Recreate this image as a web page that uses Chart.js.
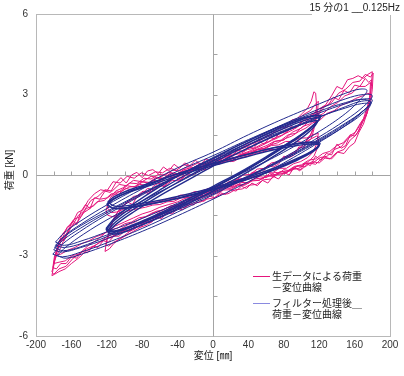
<!DOCTYPE html>
<html><head><meta charset="utf-8">
<script src="https://cdn.jsdelivr.net/npm/chart.js@4/dist/chart.umd.min.js"></script>
<style>html,body{margin:0;padding:0;background:#fff}canvas{display:block}</style>
</head><body>
<canvas id="c" width="404" height="376"></canvas>
<script>
// ---- text ----
const titleText = '15 分の1 __0.125Hz';
const xTitle = '変位 [㎜]';
const yTitle = '荷重 [kN]';
const legendRaw = ['生データによる荷重', '－変位曲線'];
const legendFlt = ['フィルター処理後＿', '荷重－変位曲線'];
const xRange = [-200, 200];
const yRange = [-6, 6];
const xStep = 40;
const yStep = 3;

// ---- raw data loops (displacement mm, load kN) ----
const rawBig1 = [[-182,-3.6],[-178,-3.1],[-172,-2.7],[-166,-2.2],[-160,-1.95],[-152,-1.5],[-146,-1.35],[-138,-0.95],[-130,-0.8],[-122,-0.55],[-114,-0.6],[-106,-0.35],[-98,-0.4],[-90,-0.2],[-80,-0.25],[-70,-0.05],[-60,-0.1],[-50,0.1],[-40,0.05],[-30,0.25],[-20,0.2],[-10,0.4],[0,0.35],[10,0.55],[20,0.5],[30,0.75],[40,0.7],[50,0.95],[60,1.0],[70,1.25],[80,1.3],[90,1.6],[100,1.75],[110,2.05],[118,2.2],[126,2.55],[134,2.7],[142,3.05],[150,3.2],[158,3.45],[166,3.5],[172,3.75],[178,3.65],[181,3.8],
 [180,3.2],[178,2.7],[174,2.3],[168,1.9],[162,1.5],[155,1.3],[148,0.95],[140,0.85],[132,0.6],[124,0.65],[116,0.4],[108,0.45],[100,0.2],[90,0.25],[80,0.05],[70,0.1],[60,-0.1],[50,-0.05],[40,-0.3],[30,-0.25],[20,-0.45],[10,-0.4],[0,-0.6],[-10,-0.55],[-20,-0.8],[-30,-0.85],[-40,-1.0],[-50,-1.1],[-60,-1.2],[-70,-1.35],[-80,-1.45],[-90,-1.6],[-100,-1.75],[-110,-1.9],[-120,-2.1],[-130,-2.4],[-140,-2.6],[-150,-2.9],[-158,-3.1],[-166,-3.4],[-174,-3.5],[-180,-3.7],[-182,-3.6]];
const rawBig2 = [[-180,-3.3],[-177,-2.8],[-172,-2.45],[-166,-2.3],[-160,-1.9],[-153,-1.75],[-146,-1.4],[-139,-1.25],[-131,-1.0],[-123,-0.95],[-115,-0.7],[-107,-0.72],[-99,-0.5],[-91,-0.55],[-83,-0.35],[-75,-0.38],[-67,-0.2],[-59,-0.25],[-51,-0.05],[-43,-0.1],[-35,0.1],[-27,0.08],[-19,0.25],[-11,0.22],[-3,0.4],[5,0.42],[13,0.55],[21,0.6],[29,0.72],[37,0.8],[45,0.9],[53,1.0],[61,1.1],[69,1.25],[77,1.3],[85,1.5],[93,1.55],[101,1.8],[109,1.9],[117,2.15],[125,2.3],[133,2.55],[141,2.7],[149,2.95],[157,3.05],[165,3.3],[172,3.3],[178,3.45],
 [177,2.9],[174,2.5],[170,2.1],[165,1.85],[159,1.5],[152,1.35],[145,1.05],[137,0.95],[129,0.7],[121,0.65],[113,0.45],[105,0.42],[97,0.25],[89,0.2],[81,0.05],[73,0.02],[65,-0.15],[57,-0.18],[49,-0.35],[41,-0.38],[33,-0.52],[25,-0.55],[17,-0.7],[9,-0.72],[1,-0.85],[-7,-0.9],[-15,-1.02],[-23,-1.05],[-31,-1.2],[-39,-1.25],[-47,-1.38],[-55,-1.42],[-63,-1.58],[-71,-1.62],[-79,-1.8],[-87,-1.85],[-95,-2.0],[-103,-2.1],[-111,-2.25],[-119,-2.35],[-127,-2.5],[-135,-2.65],[-143,-2.75],[-151,-2.95],[-159,-3.0],[-167,-3.2],[-174,-3.25],[-180,-3.3]];
const rawBig3 = [[-182,-3.75],[-179,-3.2],[-175,-2.7],[-170,-2.35],[-165,-1.95],[-159,-1.8],[-153,-1.4],[-147,-1.3],[-141,-0.95],[-134,-0.7],[-127,-0.55],[-120,-0.6],[-113,-0.25],[-105,-0.3],[-97,-0.05],[-89,-0.12],[-81,0.08],[-73,-0.02],[-65,0.12],[-57,0.08],[-49,0.25],[-41,0.18],[-33,0.38],[-25,0.32],[-17,0.45],[-9,0.4],[-1,0.55],[7,0.6],[15,0.65],[23,0.75],[31,0.8],[39,0.95],[47,1.0],[55,1.15],[63,1.25],[71,1.4],[79,1.5],[87,1.7],[95,1.8],[103,2.05],[111,2.2],[119,2.45],[127,2.6],[134,2.95],[140,3.3],[146,3.2],[152,3.55],[158,3.6],[164,3.7],[170,3.6],[175,3.75],[180,3.85],
 [179,3.3],[177,2.8],[174,2.3],[170,1.9],[165,1.6],[160,1.2],[154,1.05],[148,0.8],[141,0.85],[134,0.6],[127,0.65],[120,0.45],[112,0.5],[104,0.3],[96,0.35],[88,0.15],[80,0.2],[72,0.0],[64,0.05],[56,-0.15],[48,-0.12],[40,-0.3],[32,-0.28],[24,-0.45],[16,-0.42],[8,-0.6],[0,-0.6],[-8,-0.75],[-16,-0.78],[-24,-0.9],[-32,-0.95],[-40,-1.1],[-48,-1.15],[-56,-1.3],[-64,-1.35],[-72,-1.5],[-80,-1.6],[-88,-1.75],[-96,-1.85],[-104,-2.0],[-112,-2.15],[-120,-2.3],[-128,-2.5],[-136,-2.7],[-144,-2.85],[-152,-3.1],[-160,-3.3],[-167,-3.5],[-174,-3.6],[-179,-3.7],[-182,-3.75]];
const rawBig4 = [[-178,-3.0],[-175,-2.55],[-170,-2.2],[-164,-1.95],[-157,-1.65],[-150,-1.55],[-143,-1.25],[-135,-1.15],[-127,-0.9],[-119,-0.85],[-111,-0.65],[-103,-0.6],[-95,-0.45],[-87,-0.42],[-79,-0.25],[-71,-0.28],[-63,-0.1],[-55,-0.12],[-47,0.05],[-39,0.02],[-31,0.18],[-23,0.2],[-15,0.32],[-7,0.3],[1,0.45],[9,0.48],[17,0.58],[25,0.62],[33,0.75],[41,0.78],[49,0.92],[57,0.98],[65,1.12],[73,1.2],[81,1.35],[89,1.45],[97,1.62],[105,1.75],[113,1.95],[121,2.05],[129,2.3],[137,2.4],[145,2.6],[153,2.7],[161,2.85],[169,2.95],[175,3.05],[178,3.0],
 [176,2.6],[172,2.2],[167,1.9],[161,1.6],[154,1.45],[147,1.2],[140,1.1],[132,0.88],[124,0.8],[116,0.6],[108,0.55],[100,0.38],[92,0.32],[84,0.15],[76,0.12],[68,-0.02],[60,-0.05],[52,-0.2],[44,-0.22],[36,-0.38],[28,-0.4],[20,-0.55],[12,-0.56],[4,-0.7],[-4,-0.72],[-12,-0.85],[-20,-0.88],[-28,-1.0],[-36,-1.05],[-44,-1.18],[-52,-1.22],[-60,-1.35],[-68,-1.4],[-76,-1.55],[-84,-1.6],[-92,-1.75],[-100,-1.82],[-108,-1.98],[-116,-2.05],[-124,-2.2],[-132,-2.3],[-140,-2.45],[-148,-2.55],[-156,-2.7],[-164,-2.8],[-172,-2.95],[-178,-3.0]];
const rawBig5 = [[-181,-3.45],[-179,-3.0],[-176,-2.85],[-172,-2.4],[-168,-2.45],[-163,-2.0],[-158,-1.7],[-154,-1.85],[-149,-1.35],[-144,-1.1],[-139,-1.25],[-134,-0.85],[-128,-0.9],[-122,-0.6],[-116,-0.65],[-110,-0.3],[-104,-0.1],[-98,-0.3],[-92,0.0],[-86,0.1],[-80,-0.1],[-74,0.15],[-68,0.2],[-62,0.05],[-56,0.3],[-50,0.15],[-44,0.4],[-38,0.25],[-32,0.45],[-26,0.35],[-20,0.55],[-14,0.4],[-8,0.6],[-2,0.5],[4,0.7],[10,0.58],[16,0.82],[22,0.72],[28,0.95],[34,0.85],[40,1.05],[46,1.0],[52,1.25],[58,1.15],[64,1.4],[70,1.35],[76,1.6],[82,1.55],[88,1.8],[94,1.75],[100,2.0],[106,2.05],[112,2.3],[118,2.25],[124,2.55],[130,2.6],[136,2.9],[142,2.8],[148,3.15],[154,3.05],[160,3.35],[166,3.3],[172,3.6],[176,3.45],[179,3.55],
 [178,3.0],[176,2.55],[173,2.2],[169,2.0],[165,1.65],[160,1.45],[155,1.5],[150,1.1],[145,1.0],[140,1.15],[134,0.75],[128,0.8],[122,0.55],[116,0.7],[110,0.35],[104,0.45],[98,0.15],[92,0.3],[86,0.0],[80,0.1],[74,-0.15],[68,-0.05],[62,-0.3],[56,-0.2],[50,-0.4],[44,-0.3],[38,-0.5],[32,-0.42],[26,-0.6],[20,-0.55],[14,-0.72],[8,-0.66],[2,-0.85],[-4,-0.78],[-10,-0.98],[-16,-0.92],[-22,-1.12],[-28,-1.08],[-34,-1.3],[-40,-1.25],[-46,-1.45],[-52,-1.42],[-58,-1.62],[-64,-1.58],[-70,-1.78],[-76,-1.75],[-82,-1.95],[-88,-1.9],[-94,-2.1],[-100,-2.08],[-106,-2.28],[-112,-2.28],[-118,-2.5],[-124,-2.45],[-130,-2.7],[-136,-2.65],[-142,-2.9],[-148,-2.85],[-154,-3.1],[-160,-3.05],[-166,-3.3],[-172,-3.3],[-177,-3.5],[-181,-3.45]];
const rawMid1 = [[-121,-2.6],[-118,-2.2],[-114,-1.8],[-110,-1.5],[-104,-1.2],[-98,-1.05],[-90,-0.8],[-82,-0.75],[-74,-0.5],[-66,-0.55],[-58,-0.3],[-50,-0.25],[-42,-0.05],[-34,-0.1],[-26,0.15],[-18,0.2],[-10,0.3],[-2,0.45],[6,0.5],[14,0.7],[22,0.75],[30,0.95],[38,1.05],[46,1.2],[54,1.3],[62,1.45],[70,1.6],[78,1.7],[86,1.9],[94,2.0],[102,2.25],[110,2.4],[116,2.65],[119,2.75],
 [118,2.3],[115,1.9],[111,1.55],[106,1.3],[100,1.05],[94,0.9],[86,0.7],[78,0.6],[70,0.4],[62,0.35],[54,0.15],[46,0.1],[38,-0.1],[30,-0.15],[22,-0.35],[14,-0.4],[6,-0.55],[-2,-0.65],[-10,-0.8],[-18,-0.85],[-26,-1.05],[-34,-1.1],[-42,-1.3],[-50,-1.4],[-58,-1.55],[-66,-1.65],[-74,-1.85],[-82,-1.95],[-90,-2.1],[-98,-2.25],[-106,-2.4],[-112,-2.5],[-118,-2.65],[-121,-2.6]];
const rawMid2 = [[-119,-2.3],[-116,-1.95],[-112,-1.6],[-107,-1.35],[-101,-1.15],[-94,-0.95],[-86,-0.85],[-78,-0.65],[-70,-0.62],[-62,-0.42],[-54,-0.4],[-46,-0.2],[-38,-0.22],[-30,0.0],[-22,0.02],[-14,0.18],[-6,0.22],[2,0.38],[10,0.45],[18,0.58],[26,0.65],[34,0.8],[42,0.9],[50,1.02],[58,1.15],[66,1.28],[74,1.4],[82,1.55],[90,1.68],[98,1.85],[106,2.0],[112,2.2],[117,2.4],
 [116,2.0],[113,1.7],[109,1.4],[103,1.18],[97,0.98],[90,0.82],[82,0.68],[74,0.5],[66,0.45],[58,0.25],[50,0.22],[42,0.02],[34,0.0],[26,-0.2],[18,-0.25],[10,-0.42],[2,-0.48],[-6,-0.65],[-14,-0.7],[-22,-0.88],[-30,-0.92],[-38,-1.12],[-46,-1.18],[-54,-1.35],[-62,-1.42],[-70,-1.6],[-78,-1.68],[-86,-1.85],[-94,-1.95],[-102,-2.1],[-110,-2.2],[-116,-2.35],[-119,-2.3]];
const rawMid3 = [[-122,-2.85],[-120,-2.4],[-117,-2.1],[-113,-1.7],[-108,-1.55],[-103,-1.2],[-97,-1.0],[-91,-1.1],[-85,-0.75],[-79,-0.6],[-73,-0.7],[-67,-0.4],[-61,-0.3],[-55,-0.45],[-49,-0.1],[-43,-0.05],[-37,-0.2],[-31,0.15],[-25,0.1],[-19,0.3],[-13,0.25],[-7,0.45],[-1,0.5],[5,0.6],[11,0.75],[17,0.7],[23,0.95],[29,0.9],[35,1.1],[41,1.2],[47,1.15],[53,1.4],[59,1.5],[65,1.45],[71,1.7],[77,1.8],[83,1.75],[89,2.05],[95,2.1],[101,2.3],[107,2.5],[111,2.75],[114,3.1],[116,3.05],
 [117,2.6],[116,2.1],[114,1.7],[111,1.35],[107,1.25],[102,1.0],[97,1.05],[92,0.75],[86,0.65],[80,0.7],[74,0.4],[68,0.3],[62,0.35],[56,0.1],[50,0.05],[44,0.1],[38,-0.15],[32,-0.2],[26,-0.15],[20,-0.4],[14,-0.45],[8,-0.4],[2,-0.65],[-4,-0.7],[-10,-0.65],[-16,-0.9],[-22,-0.95],[-28,-0.9],[-34,-1.15],[-40,-1.2],[-46,-1.15],[-52,-1.4],[-58,-1.45],[-64,-1.5],[-70,-1.7],[-76,-1.75],[-82,-1.85],[-88,-2.0],[-94,-2.1],[-100,-2.25],[-106,-2.4],[-112,-2.55],[-117,-2.75],[-122,-2.85]];
const rawSmall1 = [[-121,-1.35],[-117,-1.0],[-112,-0.75],[-105,-0.6],[-97,-0.4],[-89,-0.45],[-81,-0.25],[-73,-0.3],[-65,-0.1],[-57,-0.15],[-49,0.05],[-41,0.0],[-33,0.2],[-25,0.15],[-17,0.3],[-9,0.3],[-1,0.45],[7,0.4],[15,0.55],[23,0.5],[31,0.65],[39,0.7],[47,0.8],[55,0.85],[63,0.95],[71,0.95],[79,1.1],[87,1.1],[95,1.25],[103,1.2],[111,1.35],[117,1.45],[120,1.4],
 [118,1.0],[114,0.7],[108,0.5],[100,0.35],[92,0.3],[84,0.1],[76,0.12],[68,-0.05],[60,-0.02],[52,-0.2],[44,-0.18],[36,-0.35],[28,-0.35],[20,-0.5],[12,-0.48],[4,-0.6],[-4,-0.62],[-12,-0.72],[-20,-0.75],[-28,-0.85],[-36,-0.85],[-44,-0.98],[-52,-1.0],[-60,-1.1],[-68,-1.12],[-76,-1.2],[-84,-1.25],[-92,-1.3],[-100,-1.38],[-108,-1.5],[-114,-1.55],[-119,-1.5],[-121,-1.35]];
const rawSmall2 = [[-120,-1.2],[-116,-0.85],[-110,-0.6],[-102,-0.48],[-94,-0.3],[-86,-0.32],[-78,-0.12],[-70,-0.15],[-62,0.02],[-54,0.0],[-46,0.18],[-38,0.15],[-30,0.3],[-22,0.28],[-14,0.42],[-6,0.4],[2,0.55],[10,0.52],[18,0.68],[26,0.65],[34,0.8],[42,0.82],[50,0.95],[58,0.98],[66,1.1],[74,1.12],[82,1.25],[90,1.25],[98,1.38],[106,1.38],[112,1.5],[119,1.55],
 [117,1.15],[113,0.85],[107,0.65],[99,0.5],[91,0.42],[83,0.25],[75,0.25],[67,0.08],[59,0.1],[51,-0.08],[43,-0.06],[35,-0.22],[27,-0.22],[19,-0.38],[11,-0.36],[3,-0.5],[-5,-0.5],[-13,-0.62],[-21,-0.62],[-29,-0.75],[-37,-0.75],[-45,-0.88],[-53,-0.9],[-61,-1.0],[-69,-1.02],[-77,-1.1],[-85,-1.15],[-93,-1.2],[-101,-1.28],[-109,-1.38],[-115,-1.4],[-120,-1.2]];

// ---- filtered data loops ----
const fltBig1 = [[-180,-2.79],[-170,-2.44],[-150,-1.99],[-120,-1.41],[-80,-0.70],[-40,-0.04],[0,0.6],[40,1.2],[80,1.78],[120,2.31],[150,2.66],[170,2.83],[180,2.79],
 [170,2.40],[150,1.94],[120,1.34],[80,0.61],[40,-0.06],[0,-0.7],[-40,-1.30],[-80,-1.87],[-120,-2.38],[-150,-2.71],[-170,-2.87],[-180,-2.79]];
const fltBig2 = [[-178,-2.62],[-168,-2.30],[-148,-1.86],[-118,-1.32],[-78,-0.64],[-38,0.0],[0,0.55],[40,1.12],[80,1.66],[120,2.17],[150,2.5],[168,2.66],[178,2.63],
 [168,2.26],[150,1.84],[120,1.26],[80,0.56],[40,-0.07],[0,-0.65],[-40,-1.22],[-80,-1.77],[-120,-2.24],[-148,-2.55],[-168,-2.7],[-178,-2.62]];
const fltBig3 = [[-181,-2.95],[-171,-2.6],[-151,-2.12],[-121,-1.5],[-81,-0.76],[-41,-0.05],[0,0.65],[40,1.28],[80,1.9],[120,2.46],[150,2.84],[170,3.0],[180,2.95],
 [170,2.55],[150,2.05],[120,1.42],[80,0.65],[40,-0.06],[0,-0.74],[-40,-1.38],[-80,-1.99],[-120,-2.53],[-150,-2.88],[-170,-3.05],[-181,-2.95]];
const fltBig4 = [[-178,-2.5],[-168,-2.15],[-148,-1.68],[-118,-1.08],[-78,-0.38],[-38,0.3],[0,0.85],[40,1.5],[80,2.1],[120,2.65],[150,3.05],[166,3.2],[174,3.15],
 [166,2.8],[150,2.3],[120,1.62],[80,0.85],[40,0.18],[0,-0.45],[-40,-1.05],[-80,-1.62],[-120,-2.12],[-148,-2.45],[-168,-2.62],[-178,-2.5]];
const fltBig5 = [[-176,-3.0],[-166,-2.68],[-146,-2.2],[-116,-1.6],[-76,-0.9],[-36,-0.22],[0,0.38],[40,1.0],[80,1.6],[120,2.15],[150,2.55],[168,2.75],[178,2.72],
 [168,2.33],[150,1.85],[120,1.22],[80,0.45],[40,-0.25],[0,-0.9],[-40,-1.52],[-80,-2.1],[-120,-2.62],[-146,-2.92],[-166,-3.1],[-176,-3.0]];
const fltBig6 = [[-179,-2.7],[-169,-2.3],[-149,-1.83],[-119,-1.23],[-79,-0.5],[-39,0.16],[0,0.72],[40,1.32],[80,1.88],[120,2.38],[150,2.7],[168,2.82],[179,2.7],
 [168,2.35],[150,1.9],[120,1.3],[80,0.6],[40,-0.03],[0,-0.6],[-40,-1.2],[-80,-1.78],[-120,-2.3],[-150,-2.68],[-169,-2.82],[-179,-2.7]];
const fltMid1 = [[-120,-2.1],[-110,-1.75],[-90,-1.28],[-60,-0.66],[-30,-0.09],[0,0.45],[30,0.96],[60,1.44],[90,1.87],[110,2.1],[120,2.1],
 [110,1.73],[90,1.25],[60,0.62],[30,0.04],[0,-0.5],[-30,-1.01],[-60,-1.48],[-90,-1.9],[-110,-2.12],[-120,-2.1]];
const fltMid2 = [[-121,-2.05],[-111,-1.68],[-91,-1.2],[-61,-0.58],[-31,0.0],[0,0.52],[30,1.04],[60,1.52],[90,1.95],[111,2.18],[122,2.2],
 [111,1.8],[90,1.3],[60,0.68],[30,0.1],[0,-0.42],[-30,-0.94],[-60,-1.42],[-90,-1.85],[-111,-2.08],[-121,-2.05]];
const fltMid3 = [[-119,-2.15],[-109,-1.82],[-89,-1.36],[-59,-0.75],[-29,-0.2],[0,0.33],[30,0.85],[60,1.33],[90,1.76],[109,1.98],[118,2.0],
 [109,1.62],[90,1.15],[60,0.52],[30,-0.06],[0,-0.6],[-30,-1.1],[-60,-1.56],[-90,-1.98],[-109,-2.2],[-119,-2.15]];
const fltMid4 = [[-121,-2.0],[-111,-1.6],[-91,-1.1],[-61,-0.45],[-31,0.12],[0,0.62],[30,1.12],[60,1.58],[90,2.0],[111,2.2],[121,2.15],
 [111,1.78],[90,1.28],[60,0.64],[30,0.06],[0,-0.48],[-30,-1.0],[-60,-1.46],[-90,-1.88],[-111,-2.1],[-121,-2.0]];
const fltSmall1 = [[-120,-1.08],[-112,-0.88],[-95,-0.64],[-70,-0.38],[-40,-0.03],[0,0.35],[40,0.7],[70,0.95],[95,1.1],[112,1.15],[120,1.1],
 [112,0.85],[95,0.55],[70,0.2],[40,-0.15],[0,-0.55],[-40,-0.88],[-70,-1.08],[-95,-1.22],[-112,-1.25],[-120,-1.08]];
const fltSmall2 = [[-119,-1.0],[-111,-0.8],[-94,-0.55],[-69,-0.28],[-39,0.06],[0,0.43],[40,0.78],[70,1.03],[95,1.18],[113,1.23],[121,1.18],
 [113,0.92],[95,0.62],[70,0.27],[40,-0.08],[0,-0.47],[-40,-0.8],[-70,-1.0],[-95,-1.13],[-111,-1.16],[-119,-1.0]];
const fltSmall3 = [[-120,-1.12],[-112,-0.9],[-95,-0.62],[-70,-0.33],[-40,0.04],[0,0.42],[40,0.78],[70,1.02],[95,1.16],[112,1.2],[120,1.15],
 [112,0.88],[95,0.58],[70,0.22],[40,-0.14],[0,-0.52],[-40,-0.86],[-70,-1.07],[-95,-1.2],[-112,-1.24],[-120,-1.12]];

const rawLoops = [rawBig1, rawBig2, rawBig3, rawBig4, rawBig5, rawMid1, rawMid2, rawMid3, rawSmall1, rawSmall2];
const fltBigLoops = [fltBig1, fltBig2, fltBig3, fltBig4, fltBig5, fltBig6];
const fltMidLoops = [fltMid1, fltMid2, fltMid3, fltMid4, fltSmall1, fltSmall2, fltSmall3];

const RAW_COLOR = '#e5157c';
const FLT_COLOR = '#232b8e';
const FLT_LEGEND_COLOR = '#8a8ae0';

const toPts = arr => arr.map(([x, y]) => ({x, y}));
const datasets = [];
fltBigLoops.forEach(l => datasets.push({data: toPts(l), borderColor: FLT_COLOR, borderWidth: 1, tension: 0.4, order: 0}));
fltMidLoops.forEach(l => datasets.push({data: toPts(l), borderColor: FLT_COLOR, borderWidth: 1.4, tension: 0.4, order: 0}));
rawLoops.forEach(l => datasets.push({data: toPts(l), borderColor: RAW_COLOR, borderWidth: 1, tension: 0, order: 1}));

const decor = {
  id: 'decor',
  beforeDatasetsDraw(chart) {
    const {ctx, chartArea: a, scales: {x, y}} = chart;
    ctx.save();
    ctx.lineWidth = 1;
    ctx.strokeStyle = '#b8b8b8';
    const L = Math.round(a.left) + 0.5, T = Math.round(a.top) + 0.5, R = Math.round(a.right) + 0.5, B = Math.round(a.bottom) + 0.5;
    ctx.strokeRect(L, T, R - L, B - T);
    const x0 = Math.round(x.getPixelForValue(0)) + 0.5;
    const y0 = Math.round(y.getPixelForValue(0)) + 0.5;
    ctx.strokeStyle = '#a4a4a4';
    ctx.beginPath();
    ctx.moveTo(x0, T); ctx.lineTo(x0, B);
    ctx.moveTo(L, y0); ctx.lineTo(R, y0);
    for (let v = xRange[0] + 20; v < xRange[1]; v += 20) {
      const px = Math.round(x.getPixelForValue(v)) + 0.5;
      ctx.moveTo(px, y0); ctx.lineTo(px, y0 - 4);
    }
    for (let v = yRange[0] + 1.5; v < yRange[1]; v += 1.5) {
      const py = Math.round(y.getPixelForValue(v)) + 0.5;
      ctx.moveTo(x0, py); ctx.lineTo(x0 + 4, py);
    }
    ctx.stroke();
    ctx.restore();
  },
  afterDraw(chart) {
    const {ctx, chartArea: a} = chart;
    ctx.save();
    // title box
    ctx.fillStyle = '#fff';
    ctx.fillRect(312, 0, 92, 15);
    ctx.fillStyle = '#222';
    ctx.font = '10px "Liberation Sans", "Noto Sans CJK JP"';
    ctx.textAlign = 'right';
    ctx.textBaseline = 'middle';
    ctx.fillText(titleText, 400, 8);
    // axis titles
    ctx.textAlign = 'center';
    ctx.fillText(xTitle, (a.left + a.right) / 2, 356);
    ctx.save();
    ctx.translate(10, 170);
    ctx.rotate(-Math.PI / 2);
    ctx.fillText(yTitle, 0, 0);
    ctx.restore();
    // legend
    ctx.textAlign = 'left';
    ctx.font = '10px "Noto Sans CJK JP"';
    ctx.lineWidth = 1;
    ctx.strokeStyle = RAW_COLOR;
    ctx.beginPath(); ctx.moveTo(253, 276.5); ctx.lineTo(270, 276.5); ctx.stroke();
    ctx.fillText(legendRaw[0], 272, 276);
    ctx.fillText(legendRaw[1], 272, 287);
    ctx.strokeStyle = FLT_LEGEND_COLOR;
    ctx.beginPath(); ctx.moveTo(253, 303.5); ctx.lineTo(270, 303.5); ctx.stroke();
    ctx.fillText(legendFlt[0], 272, 303);
    ctx.fillText(legendFlt[1], 272, 314);
    ctx.restore();
  }
};

new Chart(document.getElementById('c'), {
  type: 'scatter',
  data: {datasets},
  options: {
    responsive: false,
    animation: false,
    devicePixelRatio: 1,
    showLine: true,
    layout: {padding: {top: 8, right: 14, left: 0, bottom: 0}},
    elements: {point: {radius: 0, hoverRadius: 0}, line: {fill: false}},
    plugins: {legend: {display: false}, tooltip: {enabled: false}},
    scales: {
      x: {
        type: 'linear', min: xRange[0], max: xRange[1],
        ticks: {stepSize: xStep, padding: 3, color: '#333', font: {family: '"Liberation Sans"', size: 10}, maxRotation: 0},
        grid: {display: false, drawTicks: false},
        border: {display: false},
        afterFit: s => { s.height = 40; }
      },
      y: {
        type: 'linear', min: yRange[0], max: yRange[1],
        ticks: {stepSize: yStep, padding: 8, color: '#333', font: {family: '"Liberation Sans"', size: 10}},
        grid: {display: false, drawTicks: false},
        border: {display: false},
        afterFit: s => { s.width = 36; }
      }
    }
  },
  plugins: [decor]
});
</script>
</body></html>
